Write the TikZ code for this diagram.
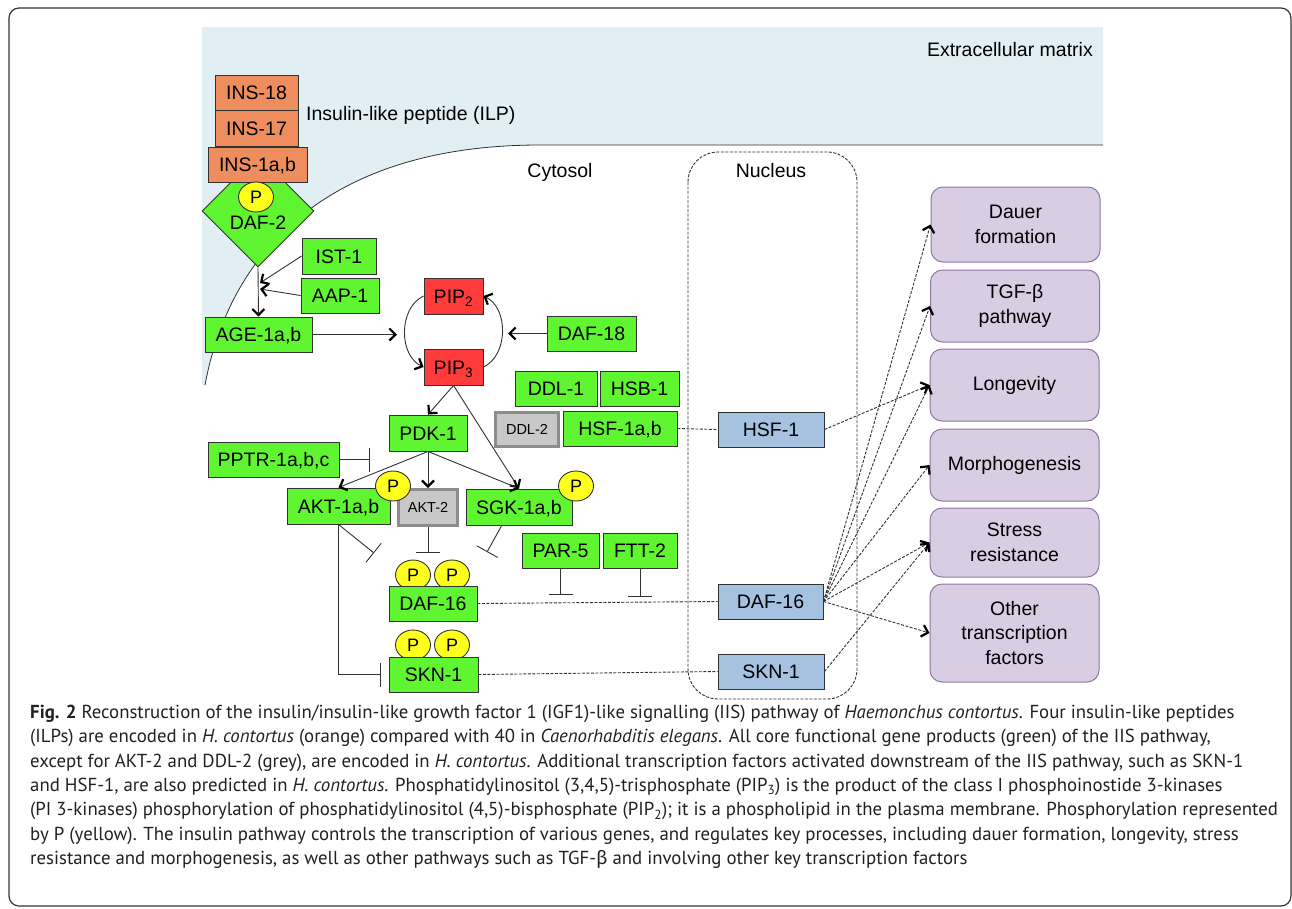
\documentclass[tikz,border=0pt]{standalone}
\usepackage{fontspec}
\setmainfont{Liberation Sans}
\newfontfamily\capfont{PT Sans}
\newfontfamily\greekfont{Fira Sans}
\usetikzlibrary{shapes.geometric,arrows.meta}
\definecolor{geneGreen}{RGB}{95,245,49}
\definecolor{insOrange}{RGB}{238,141,94}
\definecolor{pipRed}{RGB}{255,59,59}
\definecolor{phosYellow}{RGB}{255,255,30}
\definecolor{lostGrey}{RGB}{200,200,200}
\definecolor{lostEdge}{RGB}{140,140,140}
\definecolor{nucBlue}{RGB}{165,194,224}
\definecolor{outPurple}{RGB}{217,205,227}
\definecolor{outEdge}{RGB}{139,119,163}
\definecolor{ecmBlue}{RGB}{225,239,244}
\definecolor{lineGrey}{RGB}{50,50,50}
\definecolor{capInk}{RGB}{35,31,32}
\tikzset{
  >={Straight Barb[length=6pt,width=12pt,line width=2.2pt,color=black]},
  lbl/.style = {inner sep=0pt, text height=14pt, text depth=0pt,
                font=\fontsize{19.5}{22}\selectfont},
  box/.style = {rectangle, draw=lineGrey, line width=0.9pt, inner sep=0pt,
                minimum height=35pt, text height=14pt, text depth=0pt,
                font=\fontsize{19.5}{22}\selectfont},
  gene/.style = {box, fill=geneGreen},
  ins/.style = {box, fill=insOrange},
  pip/.style = {box, fill=pipRed},
  lost/.style = {box, fill=lostGrey, draw=lostEdge, line width=3pt,
                 text height=10.5pt, font=\fontsize{14.5}{16}\selectfont},
  tf/.style = {box, fill=nucBlue},
  outcome/.style = {rectangle, rounded corners=12pt, draw=outEdge, line width=1pt,
                    fill=outPurple, align=center, minimum width=169pt, inner sep=0pt,
                    font=\fontsize{19.5}{24.5}\selectfont},
  phos/.style = {ellipse, draw=lineGrey, line width=0.9pt, fill=phosYellow,
                 minimum width=35pt, minimum height=30pt, inner sep=0pt,
                 text height=13pt, text depth=0pt, font=\fontsize{18}{20}\selectfont},
  act/.style = {->, draw=lineGrey, line width=0.9pt},
  inh/.style = {-{Bar[width=24pt]}, draw=lineGrey, line width=0.9pt},
  link/.style = {draw=lineGrey, line width=0.9pt, dash pattern=on 3pt off 1.5pt},
  effect/.style = {link, ->}
}
\begin{document}
\begin{tikzpicture}[x=1pt,y=-1pt]
  \useasboundingbox (0,0) rectangle (1292,908);
  \fill[ecmBlue] (202,27) -- (1103,27) -- (1103,145) -- (540,145)
    .. controls (330,145) and (230,250) .. (205,385) -- (202,385) -- cycle;
  \draw[lineGrey, line width=0.8pt] (1103,145) -- (540,145)
    .. controls (330,145) and (230,250) .. (205,385);
  \draw[rounded corners=10pt, line width=1.2pt, black!80] (9,8) rectangle (1291,906);
  \draw[link, rounded corners=30pt] (688,152) rectangle (857,699);

  \node[lbl, anchor=east] (ecm) at (1093,49) {Extracellular matrix};
  \node[lbl, anchor=west] (ilp) at (306,113) {Insulin-like peptide (ILP)};
  \node[lbl] (cytosol) at (560,170) {Cytosol};
  \node[lbl] (nucleus) at (771,170) {Nucleus};

  \node[diamond, draw=lineGrey, line width=0.9pt, fill=geneGreen, minimum width=112pt,
        minimum height=112pt, inner sep=0pt] (daf2) at (258,211) {};
  \node[lbl] (daf2lbl) at (258,222) {DAF-2};
  \node[ins, minimum width=83pt] (ins18) at (256.5,92.5) {INS-18};
  \node[ins, minimum width=83pt, minimum height=36pt] (ins17) at (256.5,128.5) {INS-17};
  \node[ins, minimum width=99pt] (ins1) at (257.5,164.5) {INS-1a,b};
  \node[phos] (pdaf2) at (256,197) {P};

  \node[gene, minimum width=74pt, minimum height=36pt] (ist1) at (339,256) {IST-1};
  \node[gene, minimum width=78pt] (aap1) at (340,295.5) {AAP-1};
  \node[gene, minimum width=107pt] (age1) at (258.5,334.5) {AGE-1a,b};
  \node[pip, minimum width=59pt, minimum height=36pt] (pip2) at (453.5,296) {PIP\textsubscript{2}};
  \node[pip, minimum width=59pt, minimum height=36pt] (pip3) at (453.5,367) {PIP\textsubscript{3}};
  \node[gene, minimum width=89pt] (daf18) at (591.5,333.5) {DAF-18};
  \node[gene, minimum width=82pt] (ddl1) at (556,388.5) {DDL-1};
  \node[gene, minimum width=79pt] (hsb1) at (639.5,388.5) {HSB-1};
  \node[lost, minimum width=63pt, minimum height=34pt] (ddl2) at (527,429.5) {DDL-2};
  \node[gene, minimum width=114pt] (hsf1ab) at (620,428.5) {HSF-1a,b};
  \node[gene, minimum width=78pt, minimum height=36pt] (pdk1) at (428,433) {PDK-1};
  \node[gene, minimum width=131pt] (pptr) at (273.5,459.5) {PPTR-1a,b,c};
  \node[gene, minimum width=103pt, minimum height=36pt] (akt1) at (338.5,506) {AKT-1a,b};
  \node[lost, minimum width=59pt, minimum height=36pt] (akt2) at (428,507.5) {AKT-2};
  \node[gene, minimum width=106pt, minimum height=36pt] (sgk1) at (519,507) {SGK-1a,b};
  \node[gene, minimum width=77pt] (par5) at (560.5,550.5) {PAR-5};
  \node[gene, minimum width=74pt] (ftt2) at (640,550.5) {FTT-2};
  \node[phos] (pdaf16a) at (413,575) {P};
  \node[phos] (pdaf16b) at (452,575) {P};
  \node[gene, minimum width=88pt] (daf16) at (433,603.5) {DAF-16};
  \node[phos] (pskn1a) at (413,645) {P};
  \node[phos] (pskn1b) at (452,645) {P};
  \node[gene, minimum width=89pt] (skn1) at (433.5,674.5) {SKN-1};

  \node[tf, minimum width=106pt] (hsf1) at (771,429.5) {HSF-1};
  \node[tf, minimum width=105pt] (daf16n) at (770.5,601.5) {DAF-16};
  \node[tf, minimum width=106pt] (skn1n) at (771,671.5) {SKN-1};

  \node[outcome, minimum height=75pt] (dauer) at (1015.5,224.5) {Dauer\\formation};
  \node[outcome, minimum height=72pt] (tgf) at (1015,306) {TGF-β\\pathway};
  \node[outcome, minimum height=72pt] (longev) at (1014.5,385) {Longevity};
  \node[outcome, minimum height=72pt] (morph) at (1014.5,465) {Morphogenesis};
  \node[outcome, minimum height=69pt] (stress) at (1014.5,542.5) {Stress\\resistance};
  \node[outcome, minimum height=98pt] (other) at (1014.5,633) {Other\\transcription\\factors};

  \coordinate (ageIn1) at (260,283);
  \coordinate (ageIn2) at (260,289);
  \coordinate (cycleIn) at (397,334.5);
  \coordinate (ptenIn) at (508,333.5);
  \coordinate (pptrBar) at (370,459.5);
  \coordinate (akt1Bar) at (374,553);
  \coordinate (akt2Bar) at (428,553);
  \coordinate (sgkOut) at (502,525);
  \coordinate (sgkBar) at (487,552);
  \coordinate (sknBar) at (381,674.5);
  \coordinate (par5Bar) at (560.5,595);
  \coordinate (ftt2Bar) at (640,597);

  \draw[act] (daf2.south) -- (age1.north);
  \draw[act] (ist1.west) -- (ageIn1);
  \draw[act] (aap1.west) -- (ageIn2);
  \draw[act] (age1.east) -- (cycleIn);
  \draw[act] (daf18.west) -- (ptenIn);
  \draw[act] (pip2.west) to[bend right=65] (pip3.west);
  \draw[act] (pip3.east) to[bend right=65] (pip2.east);
  \draw[act] (pip3.south) -- (pdk1.north);
  \draw[act] (pip3.south) -- (sgk1.north);
  \draw[act] (pdk1.south) -- (akt1.north);
  \draw[act] (pdk1.south) -- (akt2.north);
  \draw[act] (pdk1.south) -- (sgk1.north);
  \node[phos] (pakt1) at (393,486) {P};
  \node[phos] (psgk1) at (576,486) {P};

  \draw[inh] (pptr.east) -- (pptrBar);
  \draw[inh] (akt1.south) -- (akt1Bar);
  \draw[inh] (akt2.south) -- (akt2Bar);
  \draw[inh] (sgkOut) -- (sgkBar);
  \draw[inh] (akt1.south) |- (sknBar);
  \draw[inh] (par5.south) -- (par5Bar);
  \draw[inh] (ftt2.south) -- (ftt2Bar);

  \draw[link] (hsf1ab.east) -- (hsf1.west);
  \draw[link] (daf16.east) -- (daf16n.west);
  \draw[link] (skn1.east) -- (skn1n.west);

  \draw[effect] (hsf1.east) -- (longev.west);
  \draw[effect] (daf16n.east) -- (dauer.west);
  \draw[effect] (daf16n.east) -- (tgf.west);
  \draw[effect] (daf16n.east) -- (longev.west);
  \draw[effect] (daf16n.east) -- (morph.west);
  \draw[effect] (daf16n.east) -- (stress.west);
  \draw[effect] (daf16n.east) -- (other.west);
  \draw[effect] (skn1n.east) -- (stress.west);

  \node[anchor=north west, align=left, inner sep=0pt, text=capInk,
        font=\capfont\fontsize{18.8}{24.3}\selectfont] (caption) at (30,705) {%
    \textbf{Fig. 2} Reconstruction of the insulin/insulin-like growth factor 1 (IGF1)-like signalling (IIS) pathway of \textit{Haemonchus contortus}. Four insulin-like peptides\\
    (ILPs) are encoded in \textit{H. contortus} (orange) compared with 40 in \textit{Caenorhabditis elegans}. All core functional gene products (green) of the IIS pathway,\\
    except for AKT-2 and DDL-2 (grey), are encoded in \textit{H. contortus}. Additional transcription factors activated downstream of the IIS pathway, such as SKN-1\\
    and HSF-1, are also predicted in \textit{H. contortus}. Phosphatidylinositol (3,4,5)-trisphosphate (PIP\textsubscript{3}) is the product of the class I phosphoinostide 3-kinases\\
    (PI 3-kinases) phosphorylation of phosphatidylinositol (4,5)-bisphosphate (PIP\textsubscript{2}); it is a phospholipid in the plasma membrane. Phosphorylation represented\\
    by P (yellow). The insulin pathway controls the transcription of various genes, and regulates key processes, including dauer formation, longevity, stress\\
    resistance and morphogenesis, as well as other pathways such as TGF-{\greekfont β} and involving other key transcription factors};
\end{tikzpicture}
\end{document}
